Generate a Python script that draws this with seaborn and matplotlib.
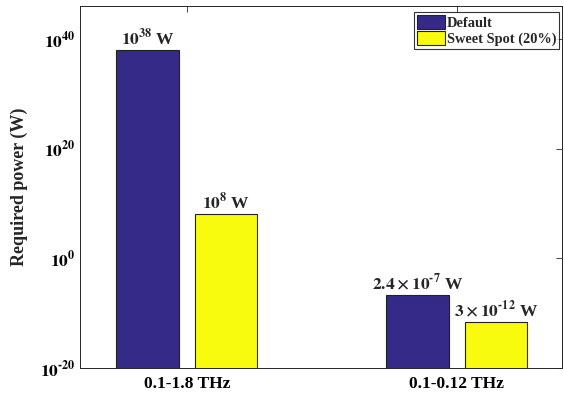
import matplotlib
matplotlib.use("Agg")
import matplotlib.pyplot as plt
import matplotlib.ticker as mticker
import seaborn as sns
import pandas as pd

# Data
bands = ["0.1-1.8 THz", "0.1-0.12 THz"]
schemes = ["Default", "Sweet Spot (20%)"]
default_power = [1e38, 2.4e-7]
sweet_power = [1e8, 3e-12]
labels_default = [r"$10^{38}$ W", r"$2.4\times10^{\text{-}7}$ W"]
labels_sweet = [r"$10^{8}$ W", r"$3\times10^{\text{-}12}$ W"]
yticks = [1e-20, 1e0, 1e20, 1e40]
ytick_labels = [r"$10^{\text{-}20}$", r"$10^{0}$", r"$10^{20}$", r"$10^{40}$"]

df = pd.DataFrame({
    "band": bands * 2,
    "scheme": [schemes[0]] * 2 + [schemes[1]] * 2,
    "power": default_power + sweet_power,
})

sns.set_style("white")
plt.rcParams["font.family"] = ["Liberation Serif", "DejaVu Serif"]
plt.rcParams["font.weight"] = "bold"
plt.rcParams["mathtext.fontset"] = "stix"
plt.rcParams["mathtext.default"] = "bf"

fig = plt.figure(figsize=(5.64, 4.0), dpi=100)
ax = fig.add_axes([0.1418, 0.08, 0.8547, 0.905])
ax.set_yscale("log")

palette = {"Default": "#352a87", "Sweet Spot (20%)": "#f9fb0e"}
sns.barplot(data=df, x="band", y="power", hue="scheme", order=bands,
            hue_order=schemes, palette=palette, width=0.58, gap=0.2,
            edgecolor="#222222", linewidth=0.8, saturation=1, ax=ax)

ax.set_ylim(1e-20, 1e46)
ax.set_xlim(-0.396, 1.39)
ax.set_yticks(yticks)
ax.set_yticklabels(ytick_labels)
ax.yaxis.set_minor_locator(mticker.NullLocator())
ax.set_xlabel("")
ax.set_ylabel("Required power (W)", fontsize=13, fontweight="bold", labelpad=8)
ax.tick_params(axis="both", direction="in", length=4, width=0.6,
               top=True, right=True, labelsize=12.5, colors="#262626",
               labelcolor="black")
ax.tick_params(axis="x", pad=6)
for lbl in ax.get_xticklabels():
    lbl.set_fontweight("bold")
for s in ax.spines.values():
    s.set_visible(True)
    s.set_color("#262626")
    s.set_linewidth(0.7)

# Value labels above bars
for cont, texts in zip(ax.containers, [labels_default, labels_sweet]):
    for bar, t in zip(cont, texts):
        ax.annotate(t, (bar.get_x() + bar.get_width() / 2, bar.get_height()),
                    xytext=(0, 1), textcoords="offset points",
                    ha="center", va="bottom", fontsize=12.5, fontweight="bold")

leg = ax.legend(loc="upper right", bbox_to_anchor=(0.994, 0.983),
                fontsize=10.4, frameon=True, fancybox=False,
                borderaxespad=0.0, handlelength=1.9, handleheight=1.1,
                handletextpad=0.15, borderpad=0.2, labelspacing=0.1)
leg.get_frame().set_edgecolor("black")
leg.get_frame().set_linewidth(0.8)
for txt in leg.get_texts():
    txt.set_fontweight("bold")

fig.savefig("out.png", dpi=100)
